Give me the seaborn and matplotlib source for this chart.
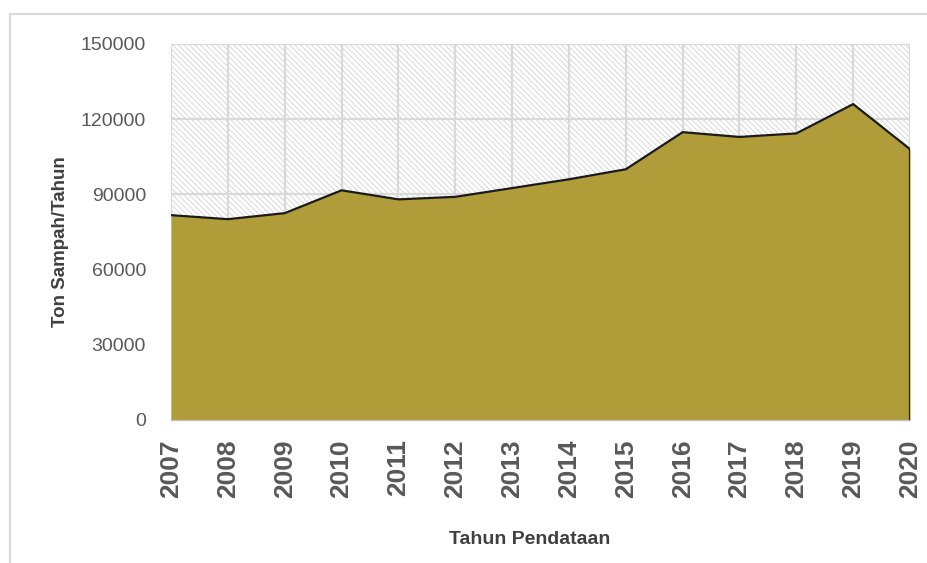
import matplotlib
matplotlib.use("Agg")
import matplotlib.pyplot as plt
from matplotlib.lines import Line2D
import seaborn as sns
import pandas as pd

# Data
tahun = [2007, 2008, 2009, 2010, 2011, 2012, 2013,
         2014, 2015, 2016, 2017, 2018, 2019, 2020]
ton_sampah = [81700, 80100, 82500, 91600, 88000, 89000, 92500,
              96000, 100000, 114800, 112900, 114300, 126000, 108000]
y_ticks = [0, 30000, 60000, 90000, 120000, 150000]

df = pd.DataFrame({'Tahun': tahun, 'Ton': ton_sampah})

sns.set_theme(style="white")
plt.rcParams['font.family'] = ['Liberation Sans', 'DejaVu Sans']
plt.rcParams['hatch.linewidth'] = 0.6
plt.rcParams['hatch.color'] = '#d2d2d2'

narrow = ['Liberation Sans Narrow', 'Liberation Sans', 'DejaVu Sans']
gray_txt = '#595959'
fill_col = '#b09c38'

fig = plt.figure(figsize=(9.27, 5.63), dpi=100)
ax = fig.add_axes([0.1845, 0.254, 0.7972, 0.668])

# hatched plot area background
ax.fill_between(df['Tahun'], 0, y_ticks[-1], facecolor='white',
                edgecolor='#d2d2d2', hatch='\\\\\\\\\\\\', linewidth=0, zorder=0)

# grid
ax.set_axisbelow(True)
ax.grid(True, axis='both', color='#d9d9d9', linewidth=1.6, zorder=1)

# area
ax.fill_between(df['Tahun'], 0, df['Ton'], color=fill_col, linewidth=0, zorder=2)
sns.lineplot(data=df, x='Tahun', y='Ton', ax=ax, color='#1a1a1a',
             linewidth=1.6, zorder=3)
ax.plot([tahun[-1], tahun[-1]], [ton_sampah[-1], 0], color='#1a1a1a',
        linewidth=1.6, zorder=3)

ax.set_xlim(tahun[0], tahun[-1])
ax.set_ylim(0, y_ticks[-1])
ax.set_xticks(tahun)
ax.set_yticks(y_ticks)
ax.set_xticklabels([str(t) for t in tahun], rotation=90, fontweight='bold',
                   fontsize=19, color=gray_txt, family=narrow)
ax.set_yticklabels([str(v) for v in y_ticks], fontsize=14, color=gray_txt)
ax.tick_params(axis='x', pad=14, length=0)
ax.tick_params(axis='y', pad=18, length=0)

for s in ['top', 'right', 'left']:
    ax.spines[s].set_visible(False)
ax.spines['bottom'].set_color('#bfbfbf')
ax.spines['bottom'].set_linewidth(1.0)

ax.set_xlabel('Tahun Pendataan', fontsize=14, fontweight='bold',
              color='#404040', family=narrow)
ax.set_ylabel('Ton Sampah/Tahun', fontsize=13.5, fontweight='bold',
              color='#404040', family=narrow)
ax.xaxis.set_label_coords(0.485, -0.295)
ax.yaxis.set_label_coords(-0.138, 0.473)

# outer chart frame
fig.add_artist(Line2D([10 / 927, 10 / 927], [0, 1 - 14 / 563],
                      transform=fig.transFigure, color='#d9d9d9', linewidth=1.5))
fig.add_artist(Line2D([10 / 927, 1], [1 - 14 / 563, 1 - 14 / 563],
                      transform=fig.transFigure, color='#d9d9d9', linewidth=1.5))

plt.savefig('out.png', dpi=100)
plt.close()
